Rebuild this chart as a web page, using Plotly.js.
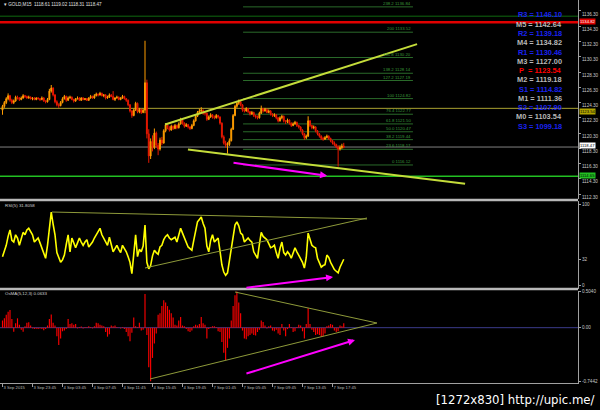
<!DOCTYPE html>
<html><head><meta charset="utf-8">
<script src="https://cdn.plot.ly/plotly-3.0.1.min.js"></script>
<style>html,body{margin:0;padding:0;background:#000;}#chart{width:600px;height:410px;}</style>
</head><body><div id="chart"></div>
<script>
// ---------- DATA ----------
const symbolHeader = "GOLD,M15  1118.61 1119.02 1118.31 1118.47";
const opens = [1123.3,1123.8,1124.3,1124.8,1125.2,1124.6,1124.3,1124.5,1125.0,1124.9,1124.7,1124.9,1125.2,1125.1,1124.9,1125.0,1124.8,1124.9,1124.7,1124.9,1124.8,1124.7,1124.9,1124.5,1124.4,1124.7,1125.8,1126.2,1125.3,1124.4,
1124.0,1123.9,1124.3,1124.8,1125.1,1124.6,1124.9,1125.0,1124.7,1124.5,1124.8,1124.9,1124.6,1124.9,1124.7,1124.8,1124.6,1124.9,1125.1,1124.9,1125.2,1125.4,1125.3,1125.5,1125.2,1125.3,1124.9,1125.0,1125.3,1125.1,
1124.7,1124.9,1125.0,1124.7,1124.9,1125.1,1124.8,1124.6,1124.0,1123.2,1122.6,1123.3,1124.2,1123.1,1123.4,1123.0,1123.3,1126.9,1120.2,1117.3,1119.2,1118.4,1120.3,1118.7,1118.2,1119.4,1119.0,1120.6,1121.4,1121.0,
1120.7,1121.2,1120.9,1121.3,1121.0,1121.5,1122.0,1121.6,1121.2,1121.4,1121.1,1120.9,1121.3,1121.9,1122.5,1123.0,1123.2,1123.3,1122.9,1122.9,1122.1,1122.4,1122.7,1122.4,1122.3,1122.6,1122.4,1121.6,1119.8,1119.0,
1118.7,1118.8,1119.3,1120.8,1122.6,1123.8,1124.2,1124.4,1124.0,1123.3,1123.2,1123.5,1123.1,1122.8,1123.0,1122.6,1122.4,1122.3,1122.9,1123.5,1123.2,1123.4,1123.0,1123.2,1122.8,1122.6,1122.7,1122.3,1121.9,1122.3,
1122.5,1121.9,1121.8,1122.0,1121.6,1121.3,1121.5,1121.7,1121.3,1121.1,1120.7,1120.2,1119.7,1119.9,1121.9,1121.3,1121.0,1121.1,1120.6,1120.2,1119.9,1119.6,1119.5,1119.7,1119.9,1119.6,1119.3,1119.0,1118.8,1118.5,
1118.2,1118.4,1118.61];
const highs = [1124.0,1124.5,1125.0,1125.5,1125.3,1124.8,1124.7,1125.2,1125.2,1125.0,1125.1,1125.4,1125.3,1125.2,1125.2,1125.1,1125.0,1125.0,1125.0,1125.0,1124.9,1125.1,1125.0,1124.6,1124.9,1126.1,1126.6,1126.3,1125.4,1124.6,
1124.2,1124.5,1125.0,1125.3,1125.2,1125.1,1125.2,1125.1,1124.8,1124.9,1125.1,1125.0,1125.0,1125.0,1124.9,1124.9,1125.0,1125.3,1125.2,1125.4,1125.6,1125.5,1125.7,1125.6,1125.4,1125.4,1125.2,1125.5,1125.4,1125.8,
1125.0,1125.2,1125.1,1125.0,1125.3,1125.2,1124.9,1124.7,1124.1,1123.3,1123.5,1124.4,1124.3,1123.6,1123.5,1123.5,1132.4,1127.3,1120.8,1119.6,1120.0,1120.9,1120.5,1119.0,1119.7,1119.8,1120.8,1121.6,1121.6,1121.2,
1121.4,1121.3,1121.5,1121.4,1121.7,1122.3,1122.1,1121.7,1121.6,1121.5,1121.2,1121.5,1122.1,1122.7,1123.2,1123.5,1123.7,1123.4,1123.1,1123.0,1122.6,1122.9,1122.8,1122.6,1122.8,1122.7,1122.5,1121.7,1120.0,1119.3,
1119.1,1119.6,1121.0,1122.8,1124.0,1124.4,1124.7,1124.6,1124.1,1123.5,1123.7,1123.6,1123.2,1123.2,1123.1,1122.7,1122.6,1123.1,1123.9,1123.6,1123.6,1123.5,1123.4,1123.3,1122.9,1122.9,1122.8,1122.4,1122.5,1122.7,
1122.6,1122.0,1122.2,1122.1,1121.7,1121.7,1121.9,1121.8,1121.4,1121.2,1120.8,1120.3,1120.1,1122.5,1122.0,1121.4,1121.3,1121.2,1120.7,1120.3,1120.0,1119.8,1119.9,1120.1,1120.0,1119.7,1119.4,1119.2,1118.9,1118.7,
1118.7,1118.9,1119.02];
const lows = [1122.7,1123.6,1124.1,1124.6,1124.4,1124.1,1124.1,1124.4,1124.7,1124.5,1124.6,1124.8,1124.9,1124.8,1124.8,1124.7,1124.6,1124.6,1124.6,1124.7,1124.5,1124.6,1124.4,1124.2,1124.3,1124.6,1125.6,1125.1,1124.2,1123.8,
1123.6,1123.8,1124.2,1124.7,1124.4,1124.5,1124.8,1124.6,1124.3,1124.4,1124.7,1124.5,1124.5,1124.6,1124.6,1124.5,1124.5,1124.8,1124.8,1124.8,1125.1,1125.1,1125.2,1125.1,1125.0,1124.7,1124.8,1124.9,1125.0,1124.6,
1124.5,1124.8,1124.6,1124.6,1124.8,1124.7,1124.4,1123.8,1123.0,1122.3,1122.5,1123.2,1122.9,1122.9,1122.8,1122.9,1122.9,1119.6,1116.4,1116.9,1117.9,1118.2,1118.4,1117.4,1118.0,1118.7,1118.9,1120.4,1120.8,1120.5,
1120.6,1120.7,1120.8,1120.8,1120.9,1121.4,1121.4,1121.0,1121.1,1120.9,1120.7,1120.8,1121.2,1121.8,1122.4,1122.9,1123.0,1122.7,1122.6,1121.9,1122.0,1122.3,1122.2,1122.1,1122.2,1122.2,1121.4,1119.6,1118.8,1118.4,
1117.6,1118.6,1119.2,1120.7,1122.5,1123.6,1124.0,1123.8,1123.1,1123.0,1123.1,1122.9,1122.6,1122.7,1122.4,1122.2,1122.1,1122.2,1122.8,1123.0,1123.1,1122.9,1122.9,1122.6,1122.4,1122.4,1122.1,1121.7,1121.8,1122.1,
1121.7,1121.5,1121.6,1121.4,1121.1,1121.2,1121.4,1121.1,1120.9,1120.5,1120.0,1119.4,1119.5,1119.8,1121.1,1120.8,1120.8,1120.4,1120.0,1119.7,1119.4,1119.3,1119.4,1119.6,1119.4,1119.1,1118.8,1118.6,1118.3,1115.9,
1118.0,1118.2,1118.31];
const closes = [1123.8,1124.3,1124.8,1125.2,1124.6,1124.3,1124.5,1125.0,1124.9,1124.7,1124.9,1125.2,1125.1,1124.9,1125.0,1124.8,1124.9,1124.7,1124.9,1124.8,1124.7,1124.9,1124.5,1124.4,1124.7,1125.8,1126.2,1125.3,1124.4,1124.0,
1123.9,1124.3,1124.8,1125.1,1124.6,1124.9,1125.0,1124.7,1124.5,1124.8,1124.9,1124.6,1124.9,1124.7,1124.8,1124.6,1124.9,1125.1,1124.9,1125.2,1125.4,1125.3,1125.5,1125.2,1125.3,1124.9,1125.0,1125.3,1125.1,1124.7,
1124.9,1125.0,1124.7,1124.9,1125.1,1124.8,1124.6,1124.0,1123.2,1122.6,1123.3,1124.2,1123.1,1123.4,1123.0,1123.3,1126.9,1120.2,1117.3,1119.2,1118.4,1120.3,1118.7,1118.2,1119.4,1119.0,1120.6,1121.4,1121.0,1120.7,
1121.2,1120.9,1121.3,1121.0,1121.5,1122.0,1121.6,1121.2,1121.4,1121.1,1120.9,1121.3,1121.9,1122.5,1123.0,1123.2,1123.3,1122.9,1122.9,1122.1,1122.4,1122.7,1122.4,1122.3,1122.6,1122.4,1121.6,1119.8,1119.0,1118.7,
1118.8,1119.3,1120.8,1122.6,1123.8,1124.2,1124.4,1124.0,1123.3,1123.2,1123.5,1123.1,1122.8,1123.0,1122.6,1122.4,1122.3,1122.9,1123.5,1123.2,1123.4,1123.0,1123.2,1122.8,1122.6,1122.7,1122.3,1121.9,1122.3,1122.5,
1121.9,1121.8,1122.0,1121.6,1121.3,1121.5,1121.7,1121.3,1121.1,1120.7,1120.2,1119.7,1119.9,1121.9,1121.3,1121.0,1121.1,1120.6,1120.2,1119.9,1119.6,1119.5,1119.7,1119.9,1119.6,1119.3,1119.0,1118.8,1118.5,1118.2,
1118.4,1118.61,1118.47];
const rsiValues = [35,42,49,60,68,55,53,62,58,49,57,65,62,68,70,66,62,53,56,58,52,46,38,33,49,74,90,75,62,40,
33,28,31,37,50,62,41,58,52,46,52,58,53,49,53,56,47,50,53,58,62,66,70,62,57,52,49,59,50,41,
45,49,44,40,49,45,41,35,28,14,37,62,35,44,41,48,74,28,20,24,36,43,40,38,47,49,56,60,62,58,
56,58,59,53,62,70,64,58,52,47,45,43,55,66,78,81,84,76,70,48,41,55,62,53,56,58,42,25,16,12,
15,30,49,62,74,78,73,64,62,53,56,58,55,53,41,36,33,50,65,60,58,56,51,46,47,49,40,33,45,53,
40,37,41,38,33,40,46,41,37,33,28,21,34,64,56,49,47,46,33,28,22,24,25,37,34,28,24,19,17,15,
22,27,31.8058];
const osmaValues = [0.10,0.13,0.18,0.22,0.245,0.12,-0.055,0.06,0.13,0.04,-0.03,-0.055,0.02,0.07,0.074,0.03,-0.01,-0.02,-0.015,-0.02,-0.01,-0.02,-0.035,-0.02,0.03,0.12,0.185,0.07,0.03,-0.12,
-0.24,-0.15,-0.05,-0.04,-0.02,0.12,0.05,0.06,0.04,0.05,-0.01,0.01,0.015,-0.01,0.01,0.005,0.02,0.01,-0.01,0.02,0.07,0.06,0.04,0.03,0.02,-0.06,-0.125,-0.09,0.03,0.02,
0.03,0.01,0.003,-0.01,0.01,-0.02,-0.06,-0.12,-0.19,-0.07,0.14,0.02,0.01,0.07,-0.04,-0.03,0.47,-0.1,-0.55,-0.7442,-0.42,-0.22,-0.08,0.18,0.2,0.3,0.38,0.35,0.3,0.25,
0.2,0.14,0.04,0.03,0.1,0.15,0.03,0.02,-0.02,-0.05,-0.06,-0.04,0.02,0.04,0.03,0.05,0.15,0.06,0.04,-0.15,-0.02,0.01,0.02,0.02,0.01,-0.05,-0.06,-0.2,-0.35,-0.45,
-0.28,-0.15,0.1,0.3,0.45,0.504,0.35,0.2,-0.04,-0.15,-0.16,-0.12,-0.1,-0.08,-0.1,-0.11,-0.06,-0.03,0.1,0.08,0.03,-0.01,0.02,0.03,-0.04,-0.05,-0.03,-0.08,-0.1,0.05,
-0.04,-0.12,-0.02,0.05,0.01,-0.06,-0.05,0.01,0.04,0.03,-0.05,-0.15,0.05,0.27,0.05,-0.03,-0.06,-0.1,-0.09,-0.1,-0.13,-0.12,-0.08,0.02,0.03,0.05,0.04,-0.04,-0.06,-0.05,
0.03,0.02,0.0633];
const barIndex = closes.map((_, i) => i);

const timeTickBars = [0,16,32,48,64,80,96,112,128,144,160,176];
const timeTickLabels = ["3 Sep 2015","3 Sep 23:45","4 Sep 03:45","4 Sep 07:45","4 Sep 11:45","4 Sep 15:45","4 Sep 19:45","7 Sep 01:45","7 Sep 05:45","7 Sep 09:45","7 Sep 13:45","7 Sep 17:45"];
const priceTicks = [1136.30,1134.30,1132.30,1130.30,1128.30,1126.30,1124.30,1122.30,1120.30,1118.30,1116.30,1114.30,1112.30];
const rsiTicks = [100,32,0];
const osmaTicks = [0.5040,0,-0.7442];
const osmaTickText = ["0.5040","0.00","-0.7442"];

const pivotNames  = ["R3","M5","R2","M4","R1","M3","P","M2","S1","M1","S2","M0","S3"];
const pivotValues = [1146.10,1142.64,1139.18,1134.82,1130.46,1127.00,1123.54,1119.18,1114.82,1111.36,1107.90,1103.54,1099.18];

const fibLevels = ["238.2","200","161.8","138.2","127.2","100","76.4","61.8","50.0","38.2","23.6","0"];
const fibPrices = [1136.84,1133.52,1130.20,1128.14,1127.19,1124.82,1122.77,1121.50,1120.47,1119.44,1118.17,1116.12];
const fibSpanBars = [128.3, 218.9];

const levelPrices = [1135.62, 1134.82, 1123.54, 1118.47, 1114.65];

const trendUpperX = [86.7, 221.1],  trendUpperY = [1121.43, 1131.96];
const trendLowerX = [98.9, 246.7],  trendLowerY = [1118.14, 1113.67];
const arrowMainX  = [122.4, 173.1], arrowMainY  = [1116.43, 1114.72];
const rsiUpperX = [26.4, 194.4], rsiUpperY = [90.1, 81.5];
const rsiLowerX = [76.0, 194.4], rsiLowerY = [21.0, 82.7];
const arrowRsiX = [129.3, 176.3], arrowRsiY = [-3.7, 9.9];
const osmaUpperX = [124.0, 199.7], osmaUpperY = [0.496, 0.065];
const osmaLowerX = [78.7, 199.7],  osmaLowerY = [-0.713, 0.065];
const arrowOsmaX = [129.3, 188.0], arrowOsmaY = [-0.644, -0.171];

// ---------- STYLE / LAYOUT ----------
const PH = 383; // plot area height in px
const py = v => (PH - v) / PH; // page px -> paper y
const trendColor = '#c4dc3a', thinTrend = '#8e9a3a', magenta = '#ff00ff';

const traces = [
  {type:'candlestick', x: barIndex, open: opens, high: highs, low: lows, close: closes,
   xaxis:'x', yaxis:'y', whiskerwidth:0,
   increasing:{line:{color:'#ff9c00', width:1}, fillcolor:'#ffa800'},
   decreasing:{line:{color:'#e81800', width:1}, fillcolor:'#e81800'},
   hoverinfo:'skip', showlegend:false},
  {type:'scatter', mode:'lines', x: trendUpperX, y: trendUpperY, yaxis:'y', line:{color:trendColor, width:2}, hoverinfo:'skip'},
  {type:'scatter', mode:'lines', x: trendLowerX, y: trendLowerY, yaxis:'y', line:{color:trendColor, width:2}, hoverinfo:'skip'},
  {type:'scatter', mode:'lines', x: barIndex, y: rsiValues, yaxis:'y2', line:{color:'#ffff00', width:1.6}, hoverinfo:'skip'},
  {type:'scatter', mode:'lines', x: rsiUpperX, y: rsiUpperY, yaxis:'y2', line:{color:thinTrend, width:1}, hoverinfo:'skip'},
  {type:'scatter', mode:'lines', x: rsiLowerX, y: rsiLowerY, yaxis:'y2', line:{color:thinTrend, width:1}, hoverinfo:'skip'},
  {type:'bar', x: barIndex, y: osmaValues, yaxis:'y3', width:0.6, marker:{color:'#ff0000', line:{width:0}}, hoverinfo:'skip'},
  {type:'scatter', mode:'lines', x: osmaUpperX, y: osmaUpperY, yaxis:'y3', line:{color:thinTrend, width:1}, hoverinfo:'skip'},
  {type:'scatter', mode:'lines', x: osmaLowerX, y: osmaLowerY, yaxis:'y3', line:{color:thinTrend, width:1}, hoverinfo:'skip'}
];

const shapes = [];
fibPrices.forEach(p => shapes.push({type:'line', xref:'x', yref:'y', x0:fibSpanBars[0], x1:fibSpanBars[1], y0:p, y1:p, line:{color:'#2a6a2a', width:1}, layer:'below'}));
const levelStyles = [
  {color:'#106a10', width:1}, {color:'#e00000', width:2.5}, {color:'#a8a030', width:1},
  {color:'#808080', width:1}, {color:'#22c022', width:1.6}];
levelPrices.forEach((p, k) => shapes.push({type:'line', xref:'paper', yref:'y', x0:0, x1:1, y0:p, y1:p, line:levelStyles[k], layer:'below'}));
shapes.push({type:'line', xref:'paper', yref:'y3', x0:0, x1:1, y0:0, y1:0, line:{color:'#3a3a8a', width:1}, layer:'below'});
[200, 289].forEach(v => shapes.push({type:'line', xref:'paper', yref:'paper', x0:0, x1:1, y0:py(v), y1:py(v), line:{color:'#b8b8b8', width:2.5}}));

const annotations = [];
const txt = (x, y, text, size, color, xanchor, extra) => Object.assign({xref:'paper', yref:'paper', x, y, text, showarrow:false, xanchor:xanchor||'left', yanchor:'middle', font:{size, color, family:'Arial, Liberation Sans'}}, extra||{});
annotations.push(txt(2/578, py(5), '▾ ' + symbolHeader, 4.6, '#e0e0e0'));
annotations.push(txt(3/578, py(205), 'RSI(5) 31.8058', 4.4, '#d0d0d0'));
annotations.push(txt(3/578, py(293.5), 'OsMA(5,12,3) 0.0633', 4.4, '#d0d0d0'));
pivotNames.forEach((n, k) => {
  const col = n === 'P' ? '#ff0000' : (n[0] === 'M' ? '#b8b8b8' : '#1a22f0');
  const label = n === 'P' ? 'P&nbsp;&nbsp;= ' + pivotValues[k].toFixed(2) : n + ' = ' + pivotValues[k].toFixed(2);
  annotations.push(txt(564/578, py(15 + k * 9.27), '<b>' + label + '</b>', 7.4, col, 'right'));
});
fibPrices.forEach((p, k) => annotations.push({xref:'x', yref:'y', x:fibSpanBars[1], y:p, text:fibLevels[k] + ' ' + p.toFixed(2),
  showarrow:false, xanchor:'right', yanchor:'bottom', yshift:-1, font:{size:4.3, color:'#3a9a3a', family:'Arial'}}));
const boxStyle = [
  null,
  {bg:'#e00000', fg:'#ffffff', shift:1}, {bg:'#b0a400', fg:'#000000', shift:-3}, {bg:'#ffffff', fg:'#000000', shift:1.5}, {bg:'#22c022', fg:'#000000', shift:1}];
levelPrices.forEach((p, k) => { if (!boxStyle[k]) return;
  annotations.push({xref:'paper', yref:'y', x:1, y:p, xanchor:'left', yanchor:'middle', xshift:1, yshift:boxStyle[k].shift, text:p.toFixed(2), showarrow:false,
    bgcolor:boxStyle[k].bg, borderpad:0, font:{size:4.2, color:boxStyle[k].fg, family:'Arial'}});
});
annotations.push({xref:'x', yref:'y', axref:'x', ayref:'y', x:arrowMainX[1], y:arrowMainY[1], ax:arrowMainX[0], ay:arrowMainY[0], text:'', showarrow:true, arrowcolor:magenta, arrowwidth:2, arrowhead:2, arrowsize:0.7});
annotations.push({xref:'x', yref:'y2', axref:'x', ayref:'y2', x:arrowRsiX[1], y:arrowRsiY[1], ax:arrowRsiX[0], ay:arrowRsiY[0], text:'', showarrow:true, arrowcolor:magenta, arrowwidth:2, arrowhead:2, arrowsize:0.7});
annotations.push({xref:'x', yref:'y3', axref:'x', ayref:'y3', x:arrowOsmaX[1], y:arrowOsmaY[1], ax:arrowOsmaX[0], ay:arrowOsmaY[0], text:'', showarrow:true, arrowcolor:magenta, arrowwidth:2, arrowhead:2, arrowsize:0.7});
annotations.push({xref:'paper', yref:'paper', x:596/578, y:py(400), xanchor:'right', yanchor:'middle', showarrow:false,
  text:'[1272x830] http://upic.me/', font:{size:13, color:'#ffffff', family:'Liberation Sans Narrow, DejaVu Sans Condensed, Arial'}});

const yCommon = {side:'right', anchor:'x', showgrid:false, zeroline:false, showline:true, linecolor:'#a0a0a0', linewidth:1,
  ticks:'outside', ticklen:2, tickcolor:'#a0a0a0', tickfont:{size:4.6, color:'#c8c8c8', family:'Arial'}, fixedrange:true};

const layout = {
  width:600, height:410, margin:{l:0, r:22, t:0, b:27, pad:0, autoexpand:false},
  paper_bgcolor:'#000000', plot_bgcolor:'#000000', showlegend:false, hovermode:false,
  xaxis:{domain:[0,1], range:[-1.333, 306.93], anchor:'y3', showgrid:false, zeroline:false, showline:true, linecolor:'#a0a0a0', linewidth:1,
    ticks:'outside', ticklen:3, tickcolor:'#a0a0a0', tickvals:timeTickBars, ticktext:timeTickLabels, ticklabelposition:'outside right',
    tickangle:0, tickfont:{size:4.2, color:'#b8b8b8', family:'Arial'}, rangeslider:{visible:false}, fixedrange:true},
  yaxis:Object.assign({}, yCommon, {domain:[py(199), 1], range:[1111.66, 1137.74], tickvals:priceTicks, ticktext:priceTicks.map(v => v.toFixed(2)), ticklabelshift:3}),
  yaxis2:Object.assign({}, yCommon, {domain:[py(289), py(201)], range:[-4.94, 103.7], tickvals:rsiTicks, ticktext:rsiTicks.map(String)}),
  yaxis3:Object.assign({}, yCommon, {domain:[0, py(291)], range:[-0.769, 0.510], tickvals:osmaTicks, ticktext:osmaTickText}),
  shapes, annotations, bargap:0.3
};

Plotly.newPlot('chart', traces, layout, {staticPlot:true, displayModeBar:false});
</script>
</body></html>
